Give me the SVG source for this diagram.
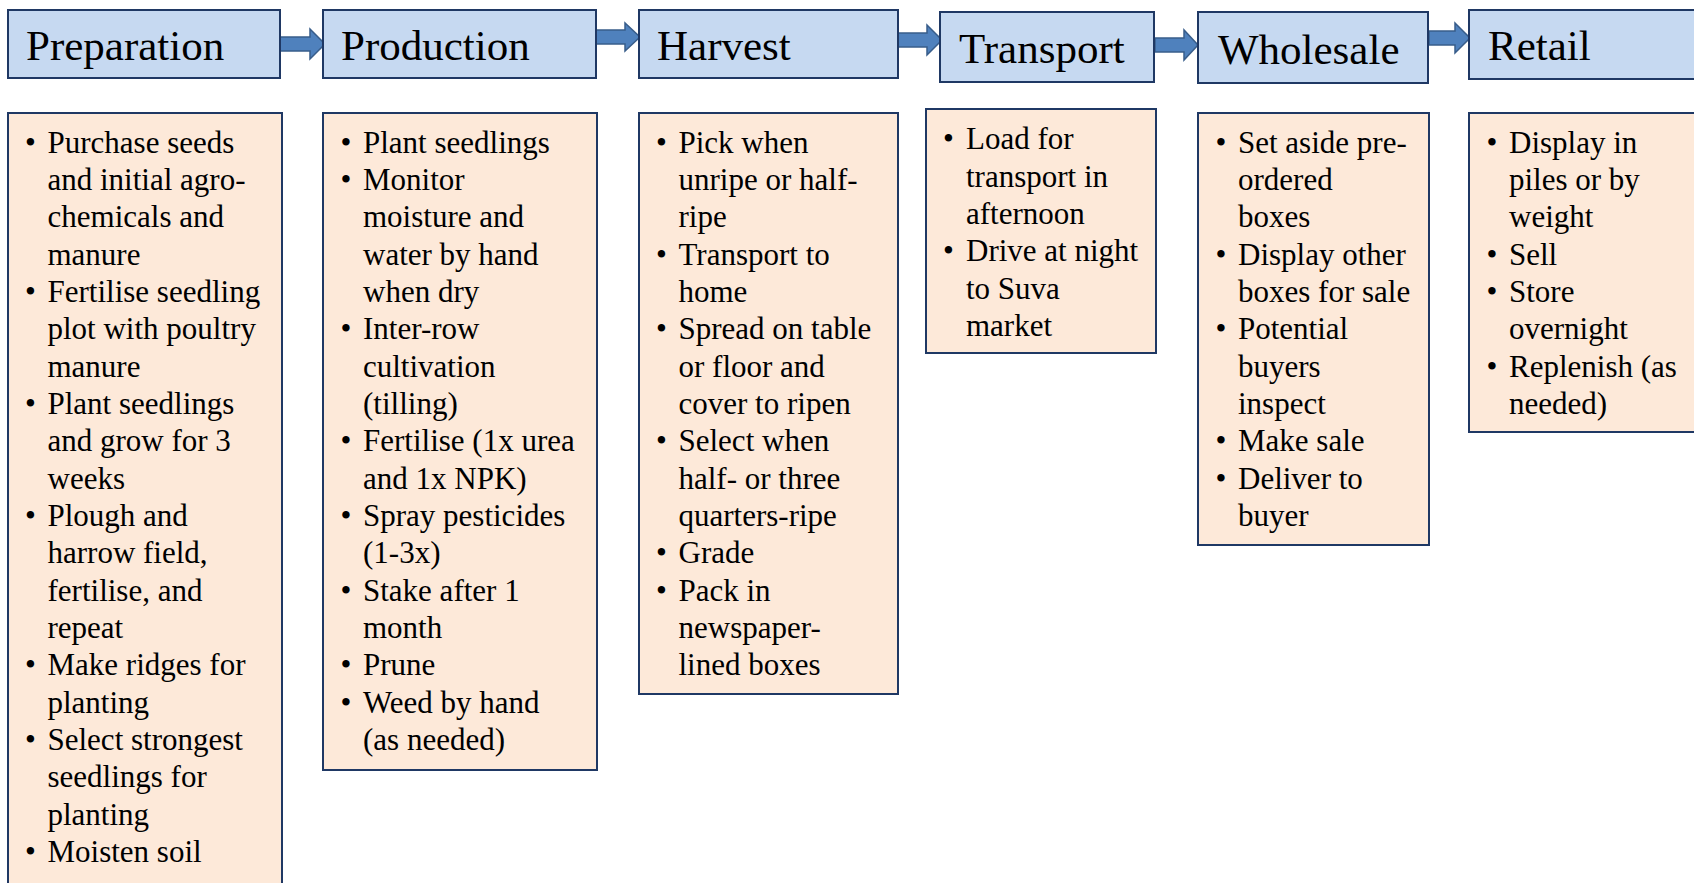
<svg xmlns="http://www.w3.org/2000/svg" width="1694" height="883" viewBox="0 0 1694 883">
<style>
.hdr{fill:#C6D9F1;stroke:#1F3864;stroke-width:2}
.box{fill:#FDE9D9;stroke:#1F3864;stroke-width:2}
.ht{font-family:"Liberation Serif","Times New Roman",serif;font-size:43px;fill:#000}
.bt{font-family:"Liberation Serif","Times New Roman",serif;font-size:31px;fill:#000}
.arr{fill:#4F81BD;stroke:#385D8A;stroke-width:1.5}
</style>
<rect width="1694" height="883" fill="#FFFFFF"/>
<g id="connectors">
<path class="arr" d="M279,37 H310 V29 L325,44 L310,59 V51 H279 Z"/>
<path class="arr" d="M596,30 H625 V23 L640,37 L625,51 V44 H596 Z"/>
<path class="arr" d="M897,33 H927 V25 L942,40 L927,55 V47 H897 Z"/>
<path class="arr" d="M1155,38 H1184 V30 L1198,45 L1184,60 V52 H1155 Z"/>
<path class="arr" d="M1429,31 H1455 V23 L1470,38 L1455,53 V45 H1429 Z"/>
</g>
<g id="preparation">
<rect class="hdr" x="8" y="10" width="272" height="68"/>
<text class="ht" x="26" y="60">Preparation</text>
<rect class="box" x="8" y="113" width="274" height="790"/>
<text class="bt">
<tspan x="25" y="152.5">•</tspan><tspan x="47.5" y="152.5">Purchase seeds</tspan>
<tspan x="47.5" y="189.85">and initial agro-</tspan>
<tspan x="47.5" y="227.2">chemicals and</tspan>
<tspan x="47.5" y="264.55">manure</tspan>
<tspan x="25" y="301.9">•</tspan><tspan x="47.5" y="301.9">Fertilise seedling</tspan>
<tspan x="47.5" y="339.25">plot with poultry</tspan>
<tspan x="47.5" y="376.6">manure</tspan>
<tspan x="25" y="413.95">•</tspan><tspan x="47.5" y="413.95">Plant seedlings</tspan>
<tspan x="47.5" y="451.3">and grow for 3</tspan>
<tspan x="47.5" y="488.65">weeks</tspan>
<tspan x="25" y="526">•</tspan><tspan x="47.5" y="526">Plough and</tspan>
<tspan x="47.5" y="563.35">harrow field,</tspan>
<tspan x="47.5" y="600.7">fertilise, and</tspan>
<tspan x="47.5" y="638.05">repeat</tspan>
<tspan x="25" y="675.4">•</tspan><tspan x="47.5" y="675.4">Make ridges for</tspan>
<tspan x="47.5" y="712.75">planting</tspan>
<tspan x="25" y="750.1">•</tspan><tspan x="47.5" y="750.1">Select strongest</tspan>
<tspan x="47.5" y="787.45">seedlings for</tspan>
<tspan x="47.5" y="824.8">planting</tspan>
<tspan x="25" y="862.15">•</tspan><tspan x="47.5" y="862.15">Moisten soil</tspan>
</text>
</g>
<g id="production">
<rect class="hdr" x="323" y="10" width="273" height="68"/>
<text class="ht" x="341" y="60">Production</text>
<rect class="box" x="323" y="113" width="274" height="657"/>
<text class="bt">
<tspan x="340.5" y="152.5">•</tspan><tspan x="363" y="152.5">Plant seedlings</tspan>
<tspan x="340.5" y="189.85">•</tspan><tspan x="363" y="189.85">Monitor</tspan>
<tspan x="363" y="227.2">moisture and</tspan>
<tspan x="363" y="264.55">water by hand</tspan>
<tspan x="363" y="301.9">when dry</tspan>
<tspan x="340.5" y="339.25">•</tspan><tspan x="363" y="339.25">Inter-row</tspan>
<tspan x="363" y="376.6">cultivation</tspan>
<tspan x="363" y="413.95">(tilling)</tspan>
<tspan x="340.5" y="451.3">•</tspan><tspan x="363" y="451.3">Fertilise (1x urea</tspan>
<tspan x="363" y="488.65">and 1x NPK)</tspan>
<tspan x="340.5" y="526">•</tspan><tspan x="363" y="526">Spray pesticides</tspan>
<tspan x="363" y="563.35">(1-3x)</tspan>
<tspan x="340.5" y="600.7">•</tspan><tspan x="363" y="600.7">Stake after 1</tspan>
<tspan x="363" y="638.05">month</tspan>
<tspan x="340.5" y="675.4">•</tspan><tspan x="363" y="675.4">Prune</tspan>
<tspan x="340.5" y="712.75">•</tspan><tspan x="363" y="712.75">Weed by hand</tspan>
<tspan x="363" y="750.1">(as needed)</tspan>
</text>
</g>
<g id="harvest">
<rect class="hdr" x="639" y="10" width="259" height="68"/>
<text class="ht" x="657" y="60">Harvest</text>
<rect class="box" x="639" y="113" width="259" height="581"/>
<text class="bt">
<tspan x="656" y="152.5">•</tspan><tspan x="678.5" y="152.5">Pick when</tspan>
<tspan x="678.5" y="189.85">unripe or half-</tspan>
<tspan x="678.5" y="227.2">ripe</tspan>
<tspan x="656" y="264.55">•</tspan><tspan x="678.5" y="264.55">Transport to</tspan>
<tspan x="678.5" y="301.9">home</tspan>
<tspan x="656" y="339.25">•</tspan><tspan x="678.5" y="339.25">Spread on table</tspan>
<tspan x="678.5" y="376.6">or floor and</tspan>
<tspan x="678.5" y="413.95">cover to ripen</tspan>
<tspan x="656" y="451.3">•</tspan><tspan x="678.5" y="451.3">Select when</tspan>
<tspan x="678.5" y="488.65">half- or three</tspan>
<tspan x="678.5" y="526">quarters-ripe</tspan>
<tspan x="656" y="563.35">•</tspan><tspan x="678.5" y="563.35">Grade</tspan>
<tspan x="656" y="600.7">•</tspan><tspan x="678.5" y="600.7">Pack in</tspan>
<tspan x="678.5" y="638.05">newspaper-</tspan>
<tspan x="678.5" y="675.4">lined boxes</tspan>
</text>
</g>
<g id="transport">
<rect class="hdr" x="940" y="12" width="214" height="70"/>
<text class="ht" x="959" y="63">Transport</text>
<rect class="box" x="926" y="109" width="230" height="244"/>
<text class="bt">
<tspan x="943" y="149.3">•</tspan><tspan x="966" y="149.3">Load for</tspan>
<tspan x="966" y="186.65">transport in</tspan>
<tspan x="966" y="224">afternoon</tspan>
<tspan x="943" y="261.35">•</tspan><tspan x="966" y="261.35">Drive at night</tspan>
<tspan x="966" y="298.7">to Suva</tspan>
<tspan x="966" y="336.05">market</tspan>
</text>
</g>
<g id="wholesale">
<rect class="hdr" x="1198" y="12" width="230" height="71"/>
<text class="ht" x="1218" y="64">Wholesale</text>
<rect class="box" x="1198" y="113" width="231" height="432"/>
<text class="bt">
<tspan x="1215.5" y="152.5">•</tspan><tspan x="1238" y="152.5">Set aside pre-</tspan>
<tspan x="1238" y="189.85">ordered</tspan>
<tspan x="1238" y="227.2">boxes</tspan>
<tspan x="1215.5" y="264.55">•</tspan><tspan x="1238" y="264.55">Display other</tspan>
<tspan x="1238" y="301.9">boxes for sale</tspan>
<tspan x="1215.5" y="339.25">•</tspan><tspan x="1238" y="339.25">Potential</tspan>
<tspan x="1238" y="376.6">buyers</tspan>
<tspan x="1238" y="413.95">inspect</tspan>
<tspan x="1215.5" y="451.3">•</tspan><tspan x="1238" y="451.3">Make sale</tspan>
<tspan x="1215.5" y="488.65">•</tspan><tspan x="1238" y="488.65">Deliver to</tspan>
<tspan x="1238" y="526">buyer</tspan>
</text>
</g>
<g id="retail">
<rect class="hdr" x="1469" y="10" width="240" height="69"/>
<text class="ht" x="1488" y="60">Retail</text>
<rect class="box" x="1469" y="113" width="240" height="319"/>
<text class="bt">
<tspan x="1486.5" y="152.5">•</tspan><tspan x="1509" y="152.5">Display in</tspan>
<tspan x="1509" y="189.85">piles or by</tspan>
<tspan x="1509" y="227.2">weight</tspan>
<tspan x="1486.5" y="264.55">•</tspan><tspan x="1509" y="264.55">Sell</tspan>
<tspan x="1486.5" y="301.9">•</tspan><tspan x="1509" y="301.9">Store</tspan>
<tspan x="1509" y="339.25">overnight</tspan>
<tspan x="1486.5" y="376.6">•</tspan><tspan x="1509" y="376.6">Replenish (as</tspan>
<tspan x="1509" y="413.95">needed)</tspan>
</text>
</g>
</svg>
